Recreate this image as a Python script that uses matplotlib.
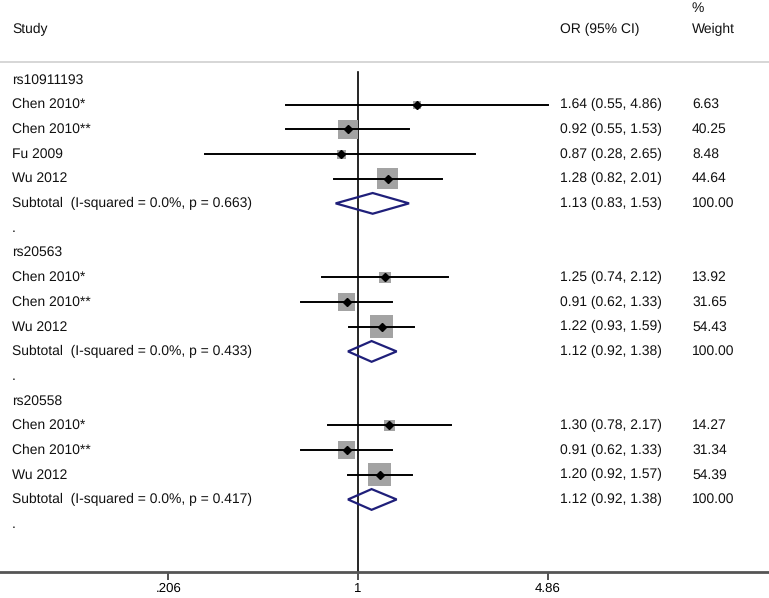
import numpy as np
import matplotlib.pyplot as plt
from matplotlib.patches import Polygon
from matplotlib.transforms import blended_transform_factory

plt.rcParams['font.family'] = ['Liberation Sans', 'DejaVu Sans']
plt.rcParams['text.hinting'] = 'no_hinting'

# ---------------------------- data ---------------------------------
groups = ['rs10911193', 'rs20563', 'rs20558']

study_names = [
    ['Chen 2010*', 'Chen 2010**', 'Fu 2009', 'Wu 2012'],
    ['Chen 2010*', 'Chen 2010**', 'Wu 2012'],
    ['Chen 2010*', 'Chen 2010**', 'Wu 2012'],
]
odds = [[1.64, 0.92, 0.87, 1.28], [1.25, 0.91, 1.22], [1.30, 0.91, 1.20]]
ci_low = [[0.55, 0.55, 0.28, 0.82], [0.74, 0.62, 0.93], [0.78, 0.62, 0.92]]
ci_high = [[4.86, 1.53, 2.65, 2.01], [2.12, 1.33, 1.59], [2.17, 1.33, 1.57]]
weights = [[6.63, 40.25, 8.48, 44.64], [13.92, 31.65, 54.43], [14.27, 31.34, 54.39]]

sub_or = [1.13, 1.12, 1.12]
sub_low = [0.83, 0.92, 0.92]
sub_high = [1.53, 1.38, 1.38]
sub_i2 = ['0.0%', '0.0%', '0.0%']
sub_p = ['0.663', '0.433', '0.417']

xticks = [0.206, 1, 4.86]
xtick_labels = ['.206', '1', '4.86']

# ---------------------------- figure -------------------------------
W, H = 769, 598
fig = plt.figure(figsize=(W / 100, H / 100), dpi=100)
ax = fig.add_axes([0, (H - 572) / H, 1, (572 - 62) / H])
ax.set_xscale('log')
ax.set_xlim(np.exp(-358 / 120), np.exp((W - 358) / 120))
ax.set_ylim(19.94, -0.73)

tr = blended_transform_factory(ax.transAxes, ax.transData)
fs = 10
xl, xo, xw = 12 / W, 560 / W, 692 / W

def txt(x, y, s):
    ax.text(x, y, s, transform=tr, fontsize=fs, va='center', ha='left',
            clip_on=False, color='#111111')

# header
txt(xl, -2.03, 'Study')
txt(xo, -2.03, 'OR (95% CI)')
txt(xw, -2.03, 'Weight')
txt(xw, -2.92, '%')

row = 0
for g in range(len(groups)):
    txt(xl, row, groups[g])
    row += 1
    for k in range(len(study_names[g])):
        o, lo, hi, w = odds[g][k], ci_low[g][k], ci_high[g][k], weights[g][k]
        ax.plot([lo, hi], [row, row], color='black', lw=1.4, zorder=3)
        side = 3.1 * np.sqrt(w) * 0.72
        ax.scatter([o], [row], marker='s', s=side ** 2, color='#a3a3a3',
                   edgecolors='none', zorder=2)
        ax.plot([o], [row], marker='D', ms=4, color='black', zorder=4)
        txt(xl, row, study_names[g][k])
        txt(xo, row, '%.2f (%.2f, %.2f)' % (o, lo, hi))
        txt(xw, row, '%.2f' % w)
        row += 1
    d = 0.42
    ax.add_patch(Polygon([[sub_low[g], row], [sub_or[g], row - d],
                          [sub_high[g], row], [sub_or[g], row + d]],
                         closed=True, facecolor='none', edgecolor='#1f1f7a',
                         lw=1.6, zorder=3))
    txt(xl, row, 'Subtotal  (I-squared = %s, p = %s)' % (sub_i2[g], sub_p[g]))
    txt(xo, row, '%.2f (%.2f, %.2f)' % (sub_or[g], sub_low[g], sub_high[g]))
    txt(xw, row, '100.00')
    row += 1
    txt(xl, row, '.')
    row += 1

ax.axvline(1, ymin=0, ymax=(572 - 72) / (572 - 62), color='black', lw=1.2, zorder=1)

for s in ['left', 'right']:
    ax.spines[s].set_visible(False)
ax.spines['top'].set_color('#cfcfcf')
ax.spines['top'].set_linewidth(1.2)
ax.spines['bottom'].set_color('#555555')
ax.spines['bottom'].set_linewidth(2)
ax.set_yticks([])
ax.set_xticks(xticks)
ax.set_xticklabels(xtick_labels, fontsize=9.5)
ax.minorticks_off()
ax.tick_params(axis='x', direction='out', length=6, width=1.2, color='#333333', pad=1.5)

fig.savefig('out.png', dpi=100)
